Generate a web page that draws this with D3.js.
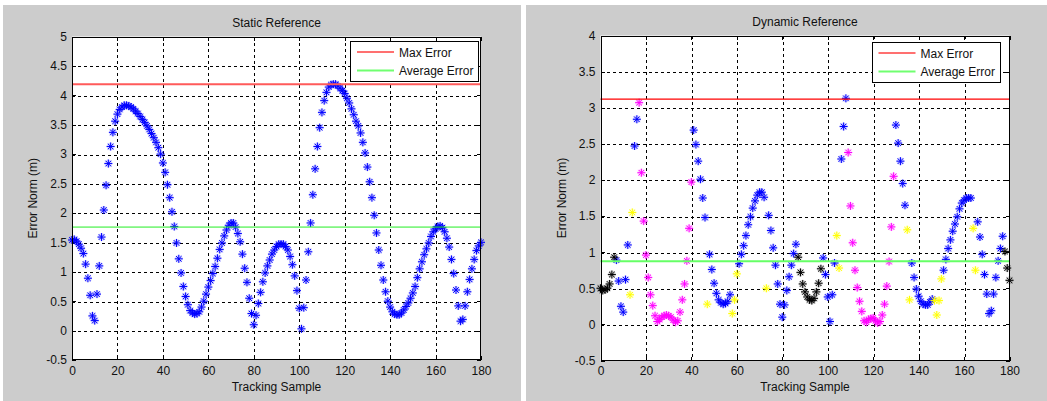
<!DOCTYPE html>
<html>
<head>
<meta charset="utf-8">
<script src="https://cdn.jsdelivr.net/npm/d3@7"></script>
<style>
  body { margin: 0; background: #fff; }
  svg { display: block; font-family: "Liberation Sans", Arial, sans-serif; }
</style>
</head>
<body>
<script>
// Tracking error norms, static vs dynamic reference

// Axis ticks
const sampleTicks = [0, 20, 40, 60, 80, 100, 120, 140, 160, 180];
const staticTicksY = [-0.5, 0, 0.5, 1, 1.5, 2, 2.5, 3, 3.5, 4, 4.5, 5];
const dynamicTicksY = [-0.5, 0, 0.5, 1, 1.5, 2, 2.5, 3, 3.5, 4];

// Static reference: one value per tracking sample 0..180
const staticSamples = d3.range(0, 181);
const staticError = [
  1.54, 1.55, 1.52, 1.47, 1.40, 1.31, 1.13, 0.89, 0.60, 0.25,
  0.17, 0.62, 1.10, 1.59, 2.05, 2.47, 2.84, 3.13, 3.37, 3.56,
  3.68, 3.76, 3.80, 3.83, 3.83, 3.82, 3.80, 3.77, 3.73, 3.69,
  3.64, 3.59, 3.54, 3.48, 3.42, 3.35, 3.28, 3.20, 3.11, 3.00,
  2.85, 2.69, 2.48, 2.26, 2.02, 1.77, 1.49, 1.22, 0.98, 0.75,
  0.58, 0.44, 0.34, 0.30, 0.28, 0.29, 0.32, 0.40, 0.50, 0.62,
  0.74, 0.85, 0.97, 1.09, 1.23, 1.38, 1.49, 1.61, 1.71, 1.79,
  1.83, 1.83, 1.76, 1.65, 1.51, 1.30, 1.06, 0.82, 0.55, 0.29,
  0.10, 0.26, 0.46, 0.65, 0.83, 0.98, 1.10, 1.20, 1.30, 1.37,
  1.43, 1.47, 1.47, 1.47, 1.43, 1.37, 1.26, 1.12, 0.93, 0.68,
  0.38, 0.03, 0.39, 0.86, 1.34, 1.83, 2.31, 2.75, 3.13, 3.45,
  3.71, 3.91, 4.05, 4.14, 4.18, 4.19, 4.19, 4.16, 4.12, 4.08,
  4.03, 3.95, 3.87, 3.77, 3.67, 3.56, 3.48, 3.36, 3.20, 3.02,
  2.78, 2.53, 2.26, 1.96, 1.66, 1.37, 1.11, 0.86, 0.66, 0.50,
  0.40, 0.32, 0.28, 0.27, 0.27, 0.30, 0.35, 0.41, 0.47, 0.55,
  0.64, 0.75, 0.90, 1.05, 1.17, 1.29, 1.39, 1.49, 1.60, 1.68,
  1.73, 1.77, 1.78, 1.75, 1.68, 1.57, 1.42, 1.21, 0.97, 0.69,
  0.42, 0.16, 0.19, 0.42, 0.66, 0.87, 1.05, 1.21, 1.36, 1.44,
  1.50
];
const staticMaxError = 4.19;
const staticAvgError = 1.76;

// Dynamic reference, split by marker colour
const blueSamples = [
  7, 8, 9, 10, 11, 12, 15, 16, 41, 42, 43, 44, 45, 46,
  48, 49, 50, 51, 52, 53, 54, 55, 56, 57,
  61, 62, 63, 64, 65, 66, 67, 68, 69, 70, 71, 72,
  74, 75, 76, 77, 78, 79, 80, 81, 82, 83, 84, 85, 86,
  98, 99, 100, 101, 102, 103, 106, 107, 108,
  130, 131, 132, 133, 134, 137, 138, 139, 140, 141, 142, 143, 144, 145, 146,
  151, 152, 153, 154, 155, 156, 157, 158, 159, 160, 161, 162, 163,
  166, 167, 168, 169, 170, 171, 172, 173, 174, 175, 176, 177
];
const blueError = [
  0.89, 0.60, 0.25, 0.17, 0.62, 1.10, 2.47, 2.84, 2.69, 2.49, 2.26, 2.01, 1.75, 1.48,
  0.97, 0.76, 0.57, 0.43, 0.34, 0.30, 0.28, 0.29, 0.32, 0.41,
  0.84, 0.97, 1.09, 1.23, 1.38, 1.49, 1.61, 1.71, 1.79, 1.83, 1.83, 1.76,
  1.51, 1.30, 1.06, 0.82, 0.56, 0.28, 0.10, 0.27, 0.47, 0.66, 0.82, 0.98, 1.11,
  0.92, 0.69, 0.38, 0.04, 0.41, 0.85, 2.29, 2.74, 3.13,
  2.76, 2.51, 2.26, 1.95, 1.65, 0.85, 0.65, 0.49, 0.39, 0.32, 0.28, 0.27, 0.27, 0.31, 0.35,
  0.75, 0.90, 1.05, 1.17, 1.29, 1.39, 1.49, 1.60, 1.68, 1.72, 1.75, 1.75, 1.75,
  1.42, 1.21, 0.97, 0.69, 0.42, 0.15, 0.19, 0.42, 0.65, 0.88, 1.05, 1.22
];
const magentaSamples = [
  17, 18, 19, 20, 21, 22, 23, 24, 25, 26, 27, 28, 29, 30, 31, 32, 33, 34, 35, 36, 37, 38, 39, 40,
  109, 110, 111, 112, 113, 114, 115, 116, 117, 118, 119, 120, 121, 122, 123, 124, 125, 126, 127, 128, 129
];
const magentaError = [
  3.07, 2.10, 1.43, 0.96, 0.65, 0.41, 0.26, 0.12, 0.04, 0.07, 0.10, 0.12, 0.13, 0.12, 0.10, 0.06,
  0.03, 0.05, 0.17, 0.34, 0.56, 0.88, 1.33, 1.97,
  2.38, 1.64, 1.13, 0.75, 0.51, 0.32, 0.18, 0.05, 0.03, 0.07, 0.08, 0.09, 0.05, 0.02, 0.04,
  0.13, 0.28, 0.53, 0.87, 1.35, 2.05
];
const yellowSamples = [13, 14, 47, 58, 59, 60, 73, 104, 105, 135, 136, 147, 148, 149, 150, 164, 165];
const yellowError = [0.41, 1.55, 0.28, 0.15, 0.34, 0.70, 0.50, 1.23, 0.78, 1.31, 0.34, 0.33, 0.13, 0.33, 0.63, 1.33, 0.75];
const blackSamples = [0, 1, 2, 3, 4, 5, 6, 87, 88, 89, 90, 91, 92, 93, 94, 95, 96, 97, 178, 179, 180];
const blackError = [
  0.50, 0.47, 0.48, 0.50, 0.56, 0.69, 0.93,
  0.93, 0.72, 0.56, 0.45, 0.38, 0.34, 0.33, 0.36, 0.45, 0.57, 0.77,
  1.01, 0.78, 0.61
];
const dynamicMaxError = 3.12;
const dynamicAvgError = 0.875;

// SVG container
const width = 1047;
const height = 401;

const svg = d3.select('body')
  .append('svg')
  .attr('width', width)
  .attr('height', height);

// MATLAB style '*' marker
const starPath = 'M-4,0H4M0,-4V4M-2.8,-2.8L2.8,2.8M-2.8,2.8L2.8,-2.8';

function drawPanel(p) {
  // grey figure background
  svg.append('rect')
    .attr('x', p.bg[0]).attr('y', p.bg[1])
    .attr('width', p.bg[2]).attr('height', p.bg[3])
    .attr('fill', '#cccccc');

  const g = svg.append('g').attr('transform', `translate(${p.left},${p.top})`);

  const x = d3.scaleLinear().domain([0, 180]).range([0, p.w]);
  const y = d3.scaleLinear().domain(p.yDomain).range([p.h, 0]);

  g.append('rect')
    .attr('width', p.w).attr('height', p.h)
    .attr('fill', '#fff');

  // dotted grid
  const grid = g.append('g')
    .attr('stroke', '#000')
    .attr('stroke-dasharray', '3,3')
    .attr('shape-rendering', 'crispEdges');
  grid.selectAll('line.v')
    .data(sampleTicks.slice(1, -1))
    .enter().append('line')
    .attr('x1', d => Math.round(x(d)) + 0.5).attr('x2', d => Math.round(x(d)) + 0.5)
    .attr('y1', 0).attr('y2', p.h);
  grid.selectAll('line.h')
    .data(p.yTicks.slice(1, -1))
    .enter().append('line')
    .attr('y1', d => Math.round(y(d)) + 0.5).attr('y2', d => Math.round(y(d)) + 0.5)
    .attr('x1', 0).attr('x2', p.w);

  // axes with inward ticks on all four sides
  const fmt = d => String(d);
  const styleAxis = sel => {
    sel.select('.domain').remove();
    sel.selectAll('text').attr('font-size', 12).attr('font-family', '"Liberation Sans", Arial, sans-serif').attr('fill', '#111');
    sel.selectAll('line').attr('stroke', '#000').attr('shape-rendering', 'crispEdges');
  };
  g.append('g')
    .attr('transform', `translate(0,${p.h})`)
    .call(d3.axisBottom(x).tickValues(sampleTicks).tickFormat(fmt).tickSizeInner(-4).tickSizeOuter(0).tickPadding(6))
    .call(styleAxis);
  g.append('g')
    .call(d3.axisTop(x).tickValues(sampleTicks).tickFormat('').tickSizeInner(-4).tickSizeOuter(0))
    .call(styleAxis);
  g.append('g')
    .call(d3.axisLeft(y).tickValues(p.yTicks).tickFormat(fmt).tickSizeInner(-4).tickSizeOuter(0).tickPadding(5))
    .call(styleAxis);
  g.append('g')
    .attr('transform', `translate(${p.w},0)`)
    .call(d3.axisRight(y).tickValues(p.yTicks).tickFormat('').tickSizeInner(-4).tickSizeOuter(0))
    .call(styleAxis);

  // markers
  p.series.forEach(s => {
    const pts = d3.zip(s.x, s.y);
    const m = g.append('g');
    m.selectAll('path.halo')
      .data(pts)
      .enter().append('path')
      .attr('d', starPath)
      .attr('transform', d => `translate(${x(d[0])},${y(d[1])})`)
      .attr('fill', 'none')
      .attr('stroke', s.color)
      .attr('stroke-width', 2.5)
      .attr('stroke-opacity', 0.18);
    m.selectAll('path.core')
      .data(pts)
      .enter().append('path')
      .attr('d', starPath)
      .attr('transform', d => `translate(${x(d[0])},${y(d[1])})`)
      .attr('fill', 'none')
      .attr('stroke', s.color)
      .attr('stroke-width', 1);
  });

  // max and average error lines
  g.append('line')
    .attr('x1', x(0)).attr('x2', x(180))
    .attr('y1', y(p.maxError)).attr('y2', y(p.maxError))
    .attr('stroke', p.maxColor).attr('stroke-width', p.maxWidth);
  g.append('line')
    .attr('x1', x(0)).attr('x2', x(180))
    .attr('y1', y(p.avgError)).attr('y2', y(p.avgError))
    .attr('stroke', p.avgColor).attr('stroke-width', p.avgWidth);

  // axes box
  g.append('rect')
    .attr('x', 0.5).attr('y', 0.5)
    .attr('width', p.w - 1).attr('height', p.h - 1)
    .attr('fill', 'none').attr('stroke', '#000')
    .attr('shape-rendering', 'crispEdges');

  // title and axis labels
  svg.append('text')
    .text(p.title)
    .attr('x', p.left + p.w / 2).attr('y', p.top - 9.5)
    .attr('text-anchor', 'middle').attr('font-size', 12).attr('fill', '#111');
  svg.append('text')
    .text('Tracking Sample')
    .attr('x', p.left + p.w / 2).attr('y', 391)
    .attr('text-anchor', 'middle').attr('font-size', 12).attr('fill', '#111');
  svg.append('text')
    .text('Error Norm (m)')
    .attr('transform', `translate(${p.left - 35},${p.top + p.h / 2}) rotate(-90)`)
    .attr('text-anchor', 'middle').attr('font-size', 12).attr('fill', '#111');

  // legend
  const lg = svg.append('g').attr('transform', `translate(${p.legend[0]},${p.legend[1]})`);
  lg.append('rect')
    .attr('x', 0.5).attr('y', 0.5).attr('width', 128).attr('height', 40)
    .attr('fill', '#fff').attr('stroke', '#000')
    .attr('shape-rendering', 'crispEdges');
  const entries = [
    { label: 'Max Error', color: '#ff7070' },
    { label: 'Average Error', color: '#70ff70' }
  ];
  entries.forEach((e, i) => {
    lg.append('line')
      .attr('x1', 7).attr('x2', 44)
      .attr('y1', 11 + i * 18.5).attr('y2', 11 + i * 18.5)
      .attr('stroke', e.color).attr('stroke-width', 2);
    lg.append('text')
      .text(e.label)
      .attr('x', 49).attr('y', 16 + i * 18)
      .attr('font-size', 12).attr('fill', '#111');
  });
}

drawPanel({
  bg: [3, 5, 518, 396],
  left: 72, top: 36.5, w: 409, h: 323.5,
  yDomain: [-0.5, 5], yTicks: staticTicksY,
  title: 'Static Reference',
  series: [{ x: staticSamples, y: staticError, color: '#0000ff' }],
  maxError: staticMaxError, maxColor: '#ff5a5a', maxWidth: 2,
  avgError: staticAvgError, avgColor: '#22ee22', avgWidth: 1,
  legend: [350, 41]
});

drawPanel({
  bg: [526, 5, 521, 396],
  left: 600.5, top: 35.5, w: 409, h: 325,
  yDomain: [-0.5, 4], yTicks: dynamicTicksY,
  title: 'Dynamic Reference',
  series: [
    { x: blueSamples, y: blueError, color: '#0000ff' },
    { x: magentaSamples, y: magentaError, color: '#ff00ff' },
    { x: yellowSamples, y: yellowError, color: '#ffff00' },
    { x: blackSamples, y: blackError, color: '#000000' }
  ],
  maxError: dynamicMaxError, maxColor: '#ff0000', maxWidth: 1.2,
  avgError: dynamicAvgError, avgColor: '#66ff66', avgWidth: 2,
  legend: [871.5, 42]
});
</script>
</body>
</html>
